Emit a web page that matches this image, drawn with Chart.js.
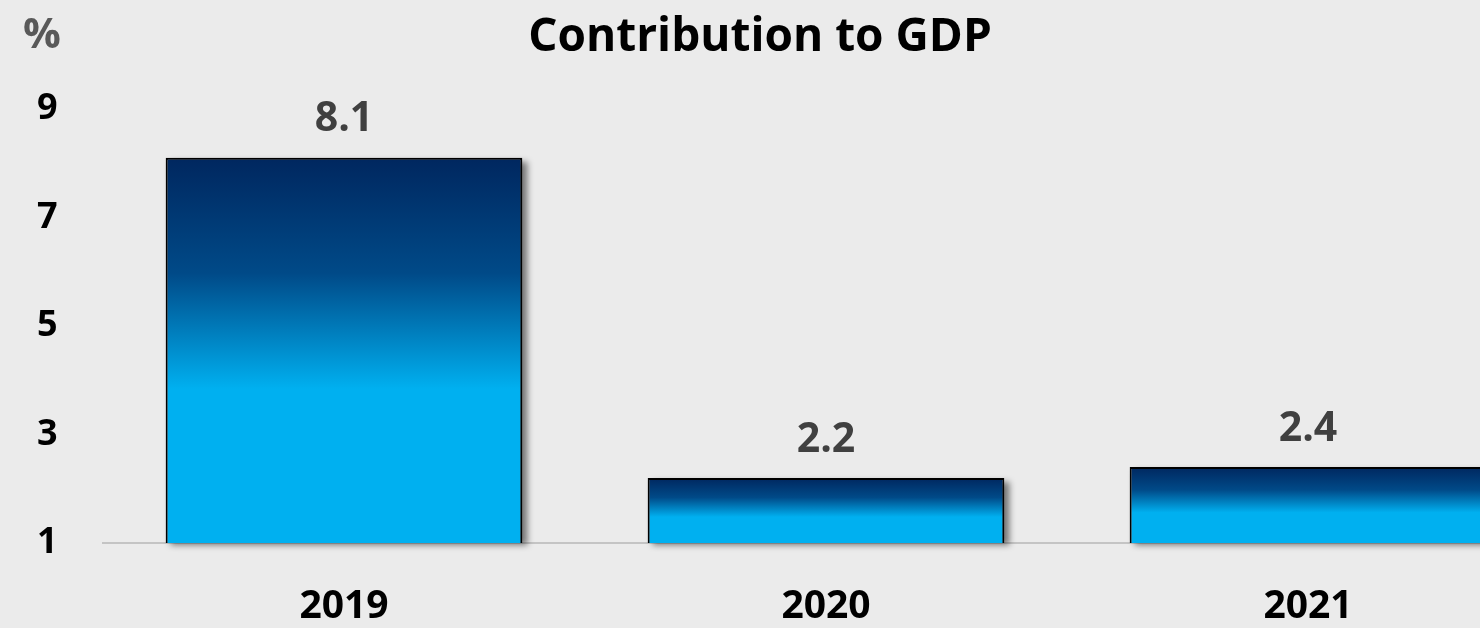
<!DOCTYPE html>
<html>
<head>
<meta charset="utf-8">
<script src="https://cdn.jsdelivr.net/npm/chart.js@4/dist/chart.umd.min.js"></script>
<style>
  html, body { margin: 0; padding: 0; background: #ebebeb; overflow: hidden; }
  #wrap { width: 1560px; height: 628px; }
</style>
</head>
<body>
<div id="wrap"><canvas id="gdpChart" width="1560" height="628"></canvas></div>
<script>
// --data--
const years = ['2019', '2020', '2021'];
const gdpShare = [8.1, 2.2, 2.4];
const yTicks = [1, 3, 5, 7, 9];
const chartTitle = 'Contribution to GDP';
const unitLabel = '%';

const FONT = "'Open Sans', sans-serif";

// gradient per bar, dark navy at top fading to cyan
function barGradient(ctx) {
  const chart = ctx.chart;
  if (!chart.chartArea || ctx.raw === undefined) return '#00b0f0';
  const y = chart.scales.y;
  const top = y.getPixelForValue(ctx.raw);
  const bottom = y.getPixelForValue(yTicks[0]);
  const g = chart.ctx.createLinearGradient(0, top, 0, bottom);
  g.addColorStop(0, '#00275f');
  g.addColorStop(0.3, '#004a88');
  g.addColorStop(0.6, '#00b0f0');
  g.addColorStop(1, '#00b0f0');
  return g;
}

const paintBg = {
  id: 'paintBg',
  beforeDraw(chart) {
    const c = chart.ctx;
    c.save();
    c.fillStyle = '#ebebeb';
    c.fillRect(0, 0, chart.width, chart.height);
    c.restore();
  }
};

// soft drop shadow to the right of each bar
const barShadow = {
  id: 'barShadow',
  beforeDatasetsDraw(chart) {
    const c = chart.ctx;
    chart.getDatasetMeta(0).data.forEach(bar => {
      const p = bar.getProps(['x', 'y', 'base', 'width'], true);
      c.save();
      c.filter = 'blur(3px)';
      c.fillStyle = 'rgba(0,0,0,0.5)';
      c.fillRect(p.x - p.width / 2 + 5, p.y + 4, p.width, p.base - p.y - 2);
      c.restore();
    });
  }
};

const textBits = {
  id: 'textBits',
  afterDraw(chart) {
    const c = chart.ctx;
    c.save();
    c.textAlign = 'center';
    c.textBaseline = 'middle';
    // title
    c.fillStyle = '#000';
    c.font = 'bold 46px ' + FONT;
    c.fillText(chartTitle, 760, 38);
    // unit
    c.fillStyle = '#595959';
    c.font = 'bold 42px ' + FONT;
    c.fillText(unitLabel, 42, 36);
    // value labels
    c.fillStyle = '#404040';
    c.font = 'bold 41px ' + FONT;
    chart.getDatasetMeta(0).data.forEach((bar, i) => {
      c.fillText(gdpShare[i].toFixed(1), bar.x, bar.y - 38);
    });
    c.restore();
  }
};

new Chart(document.getElementById('gdpChart'), {
  type: 'bar',
  data: {
    labels: years,
    datasets: [{
      data: gdpShare,
      base: yTicks[0],
      backgroundColor: barGradient,
      borderColor: '#000',
      borderWidth: 2,
      borderSkipped: 'bottom',
      categoryPercentage: 1,
      barPercentage: 0.74
    }]
  },
  options: {
    responsive: false,
    animation: false,
    devicePixelRatio: 1,
    layout: { padding: { left: 37, right: 11, top: 109, bottom: 0 } },
    plugins: {
      legend: { display: false },
      tooltip: { enabled: false },
      title: { display: false }
    },
    scales: {
      x: {
        grid: { display: false, drawTicks: false },
        border: { display: true, color: '#c4c4c4', width: 2 },
        ticks: {
          color: '#000',
          font: { family: FONT, size: 39, weight: 'bold' },
          padding: 40
        },
        afterFit(scale) { scale.height = 85; }
      },
      y: {
        min: 1,
        max: 9,
        grid: { display: false, drawTicks: false },
        border: { display: false },
        afterBuildTicks(scale) { scale.ticks = yTicks.map(v => ({ value: v })); },
        ticks: {
          color: '#000',
          crossAlign: 'far',
          padding: 0,
          font: { family: FONT, size: 36, weight: 'bold' }
        },
        afterFit(scale) { scale.width = 66; }
      }
    }
  },
  plugins: [paintBg, barShadow, textBits]
});
</script>
</body>
</html>
